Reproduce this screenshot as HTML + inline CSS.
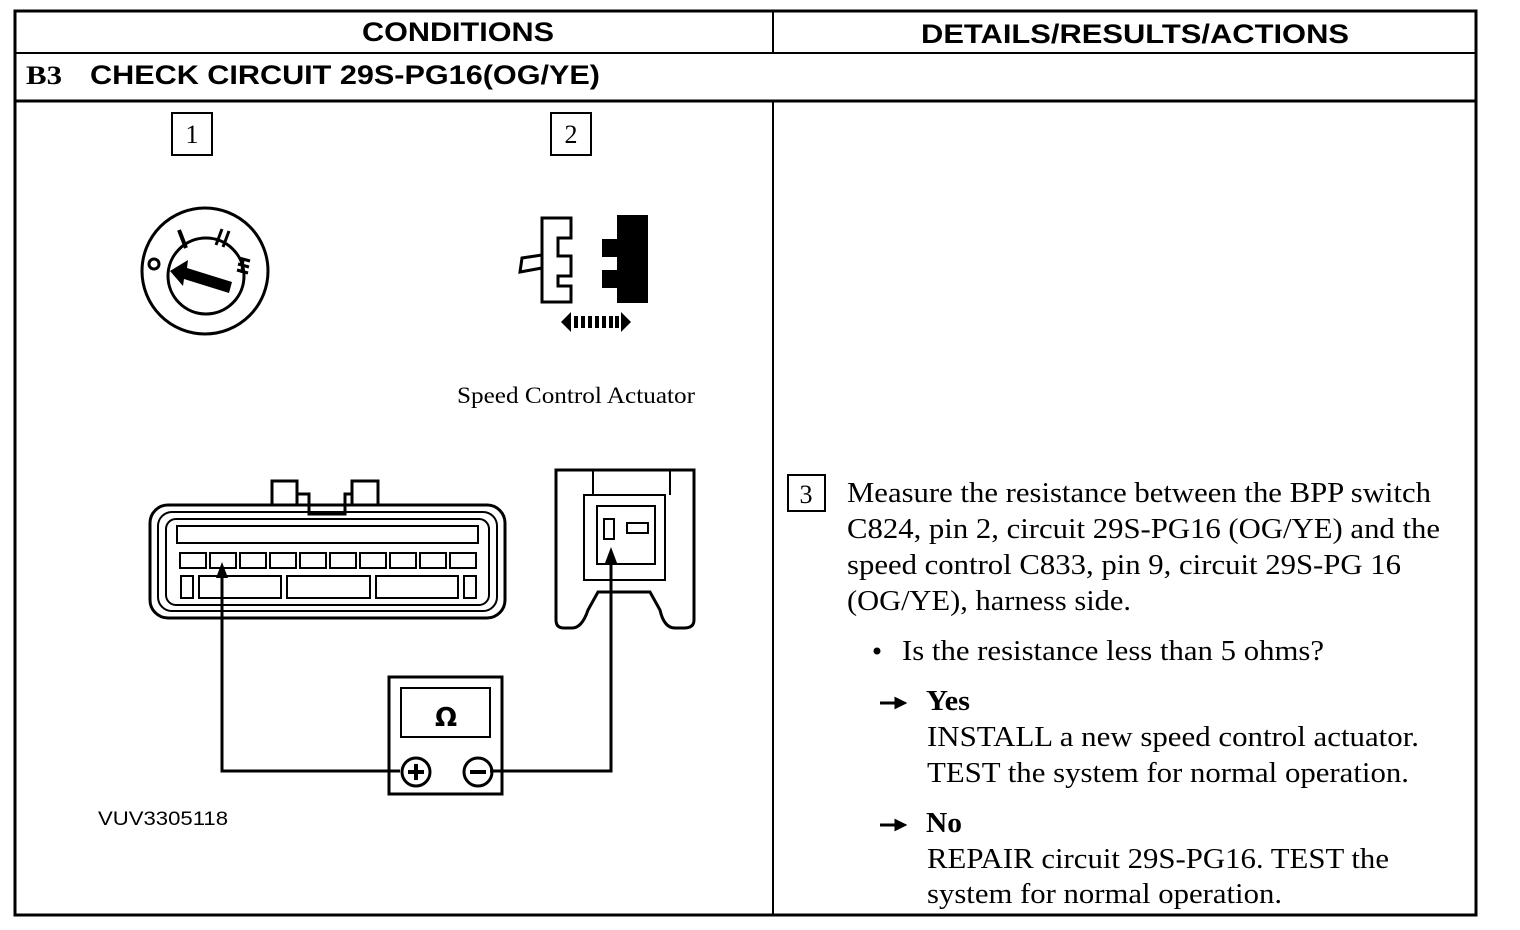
<!DOCTYPE html>
<html><head><style>html,body{margin:0;padding:0;background:#fff}svg{display:block}</style></head>
<body>
<svg width="1520" height="930" viewBox="0 0 1520 930" xmlns="http://www.w3.org/2000/svg">
<g fill="none" stroke="#000">
<rect x="15" y="11" width="1461" height="904" stroke-width="3"/>
<line x1="15" y1="53" x2="1476" y2="53" stroke-width="2"/>
<line x1="15" y1="101" x2="1476" y2="101" stroke-width="3"/>
<line x1="773" y1="11" x2="773" y2="53" stroke-width="2"/>
<line x1="773" y1="101" x2="773" y2="915" stroke-width="2"/>
</g>
<g font-family="Liberation Sans, sans-serif" font-weight="bold" font-size="27" fill="#000" lengthAdjust="spacingAndGlyphs">
<text x="362" y="41" textLength="192" lengthAdjust="spacingAndGlyphs">CONDITIONS</text>
<text x="921" y="43" textLength="428" lengthAdjust="spacingAndGlyphs">DETAILS/RESULTS/ACTIONS</text>
<text x="26" y="84" font-family="Liberation Serif, serif" font-size="26" textLength="36" lengthAdjust="spacingAndGlyphs">B3</text>
<text x="90" y="84" textLength="510" lengthAdjust="spacingAndGlyphs">CHECK CIRCUIT 29S-PG16(OG/YE)</text>
</g>
<g fill="none" stroke="#000" stroke-width="2">
<rect x="172" y="113" width="40" height="42"/>
<rect x="551" y="113" width="40" height="42"/>
<rect x="788" y="475" width="37" height="36"/>
</g>
<g font-family="Liberation Serif, serif" font-size="26" fill="#000">
<text x="192" y="143" text-anchor="middle">1</text>
<text x="571" y="143" text-anchor="middle">2</text>
<text x="806" y="503" text-anchor="middle">3</text>
</g>
<!-- ignition -->
<g fill="none" stroke="#000" stroke-width="3">
<circle cx="205" cy="271" r="63"/>
<circle cx="206" cy="276" r="38"/>
<line x1="179" y1="230" x2="186" y2="248" stroke-width="4"/>
<line x1="222" y1="229" x2="216" y2="245" stroke-width="3"/>
<line x1="229" y1="231" x2="223" y2="247" stroke-width="3"/>
<circle cx="154" cy="264" r="5"/>
</g>
<polygon points="170,271 188,260 187,268 232,282 229,293 184,279 183,286" fill="#000"/>
<g stroke="#000" stroke-width="3"><line x1="239" y1="258" x2="250" y2="261"/><line x1="238" y1="264" x2="249" y2="267"/><line x1="237" y1="270" x2="248" y2="273"/><line x1="243" y1="258" x2="242" y2="273"/></g>
<!-- actuator -->
<path d="M542,218 H571 V238 H558 V256 H571 V276 H558 V286 H571 V302 H542 Z" fill="none" stroke="#000" stroke-width="3"/>
<path d="M542,255 L522,258 L520,272 L542,268" fill="none" stroke="#000" stroke-width="3"/>
<path d="M617,215 H648 V303 H617 V288 H602 V270 H617 V257 H602 V239 H617 Z" fill="#000"/>
<polygon points="561,322 571,312 571,332" fill="#000"/>
<polygon points="631,322 621,312 621,332" fill="#000"/>
<g stroke="#000" stroke-width="4"><line x1="576" y1="316" x2="576" y2="328"/><line x1="583" y1="316" x2="583" y2="328"/><line x1="590" y1="316" x2="590" y2="328"/><line x1="597" y1="316" x2="597" y2="328"/><line x1="604" y1="316" x2="604" y2="328"/><line x1="611" y1="316" x2="611" y2="328"/><line x1="617" y1="316" x2="617" y2="328"/></g>
<text x="457" y="403" font-family="Liberation Serif, serif" font-size="23" textLength="238" lengthAdjust="spacingAndGlyphs">Speed Control Actuator</text>
<!-- large connector -->
<g fill="none" stroke="#000" stroke-width="3">
<path d="M272,505 V481 H297 V494 H309 V514 H345 V494 H352 V481 H378 V505"/>
<line x1="297" y1="494" x2="297" y2="505"/><line x1="352" y1="494" x2="352" y2="505"/>
<rect x="150" y="505" width="355" height="113" rx="18"/>
<rect x="158" y="512" width="339" height="99" rx="14" stroke-width="2"/>
<rect x="166" y="519" width="323" height="86" rx="10" stroke-width="2"/>
<rect x="177" y="526" width="301" height="17" stroke-width="2"/>
<g stroke-width="2">
<rect x="180" y="553" width="26" height="15"/><rect x="210" y="553" width="26" height="15"/><rect x="240" y="553" width="26" height="15"/><rect x="270" y="553" width="26" height="15"/><rect x="300" y="553" width="26" height="15"/><rect x="330" y="553" width="26" height="15"/><rect x="360" y="553" width="26" height="15"/><rect x="390" y="553" width="26" height="15"/><rect x="420" y="553" width="26" height="15"/><rect x="450" y="553" width="26" height="15"/>
<rect x="181" y="576" width="12" height="22"/><rect x="199" y="576" width="82" height="22"/><rect x="287" y="576" width="83" height="22"/><rect x="376" y="576" width="82" height="22"/><rect x="464" y="576" width="12" height="22"/>
</g>
</g>
<!-- small connector -->
<g fill="none" stroke="#000" stroke-width="3">
<path d="M556,470 H694 V620 Q694,628 684,628 H675 Q664,628 660,610 L650,592 H598 L588,610 Q582,628 572,628 H564 Q556,628 556,620 Z"/>
<rect x="584" y="495" width="81" height="85" stroke-width="2"/>
<rect x="597" y="506" width="58" height="58" stroke-width="2"/>
<rect x="604" y="519" width="10" height="20" stroke-width="2"/>
<rect x="627" y="523" width="21" height="10" stroke-width="2"/>
<line x1="593" y1="470" x2="593" y2="495" stroke-width="2"/><line x1="670" y1="470" x2="670" y2="495" stroke-width="2"/>
</g>
<!-- wires -->
<g fill="none" stroke="#000" stroke-width="3">
<path d="M222,575 V771 H400"/>
<path d="M490,771 H611 V558"/>
<rect x="389" y="677" width="113" height="117"/>
<rect x="401" y="688" width="89" height="49" stroke-width="2"/>
<circle cx="416" cy="772" r="14"/>
<circle cx="478" cy="772" r="14"/>
<line x1="408" y1="772" x2="424" y2="772" stroke-width="4"/><line x1="416" y1="764" x2="416" y2="780" stroke-width="4"/>
<line x1="470" y1="772" x2="486" y2="772" stroke-width="4"/>
</g>
<polygon points="222,562 216,578 228,578" fill="#000"/>
<polygon points="611,547 605,563 617,563" fill="#000"/>
<text x="446" y="726" text-anchor="middle" font-family="DejaVu Sans, sans-serif" font-weight="bold" font-size="26">Ω</text>
<text x="98" y="825" font-family="Liberation Sans, sans-serif" font-size="19" textLength="130" lengthAdjust="spacingAndGlyphs">VUV3305118</text>
<!-- right text -->
<g font-family="Liberation Serif, serif" font-size="29" fill="#000">
<text x="847" y="502" textLength="584" lengthAdjust="spacingAndGlyphs">Measure the resistance between the BPP switch</text>
<text x="847" y="538" textLength="593" lengthAdjust="spacingAndGlyphs">C824, pin 2, circuit 29S-PG16 (OG/YE) and the</text>
<text x="847" y="574" textLength="554" lengthAdjust="spacingAndGlyphs">speed control C833, pin 9, circuit 29S-PG 16</text>
<text x="847" y="610" textLength="284" lengthAdjust="spacingAndGlyphs">(OG/YE), harness side.</text>
<circle cx="877" cy="651" r="3.5" fill="#000"/>
<text x="902" y="660" textLength="422" lengthAdjust="spacingAndGlyphs">Is the resistance less than 5 ohms?</text>
<text x="926" y="710" font-weight="bold" textLength="44" lengthAdjust="spacingAndGlyphs">Yes</text>
<text x="927" y="746" textLength="492" lengthAdjust="spacingAndGlyphs">INSTALL a new speed control actuator.</text>
<text x="927" y="782" textLength="482" lengthAdjust="spacingAndGlyphs">TEST the system for normal operation.</text>
<text x="926" y="832" font-weight="bold" textLength="36" lengthAdjust="spacingAndGlyphs">No</text>
<text x="927" y="868" textLength="462" lengthAdjust="spacingAndGlyphs">REPAIR circuit 29S-PG16. TEST the</text>
<text x="927" y="903" textLength="355" lengthAdjust="spacingAndGlyphs">system for normal operation.</text>
</g>
<g stroke="#000" stroke-width="3" fill="#000">
<line x1="880" y1="703" x2="898" y2="703"/><polygon points="904,703 896,699 896,707"/>
<line x1="880" y1="825" x2="898" y2="825"/><polygon points="904,825 896,821 896,829"/>
</g>
</svg>
</body></html>
